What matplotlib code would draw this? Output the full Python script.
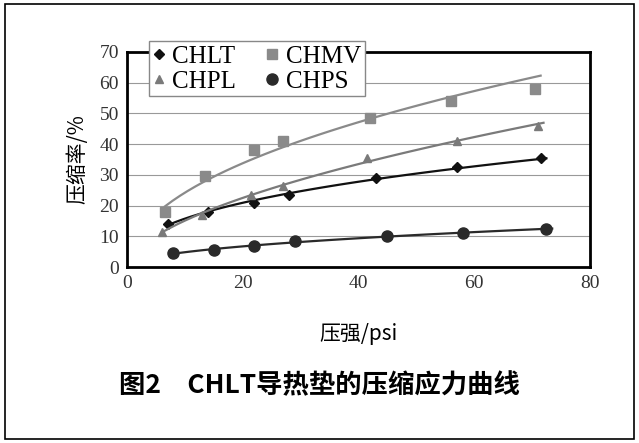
import numpy as np
from matplotlib import pyplot as plt

# Data
chlt_x = [7, 14, 22, 28, 43, 57, 71.5]
chlt_y = [14, 18, 21, 23.5, 29, 32.5, 35.5]
chmv_x = [6.5, 13.5, 22, 27, 42, 56, 70.5]
chmv_y = [18, 29.5, 38, 41, 48.5, 54, 58]
chpl_x = [6, 13, 21.5, 27, 41.5, 57, 71]
chpl_y = [11.5, 17, 23.5, 26.5, 35.5, 41, 46]
chps_x = [8, 15, 22, 29, 45, 58, 72.5]
chps_y = [4.5, 5.5, 7, 8.5, 10, 11, 12.5]

series = [
    ('CHLT', chlt_x, chlt_y, 'D', '#111111', 5),
    ('CHMV', chmv_x, chmv_y, 's', '#8a8a8a', 7),
    ('CHPL', chpl_x, chpl_y, '^', '#7a7a7a', 6),
    ('CHPS', chps_x, chps_y, 'o', '#2a2a2a', 8),
]

serif = 'Liberation Serif'
cjk = ['Noto Sans CJK SC', 'Noto Sans CJK JP', 'DejaVu Sans']

fig = plt.figure(figsize=(6.39, 4.43), dpi=100)
ax = fig.add_axes([0.199, 0.397, 0.724, 0.486])

handles = {}
for name, xs, ys, mk, col, ms in series:
    handles[name], = ax.plot(xs, ys, mk, color=col, markersize=ms, label=name, linestyle='none')
    # power trend line like the spreadsheet original
    b, a = np.polyfit(np.log(xs), np.log(ys), 1)
    tx = np.linspace(min(xs), max(xs) + 1, 50)
    ax.plot(tx, np.exp(a) * tx ** b, color=col, linewidth=1.6)

ax.set_xlim(0, 80)
ax.set_ylim(0, 70)
ax.set_xticks(range(0, 81, 20))
ax.set_yticks(range(0, 71, 10))
ax.yaxis.grid(True, color='#999999', linewidth=0.8)
ax.set_axisbelow(True)
for s in ax.spines.values():
    s.set_linewidth(2)
ax.tick_params(labelsize=14, direction='in', length=0, pad=6)
for lab in ax.get_xticklabels() + ax.get_yticklabels():
    lab.set_fontfamily(serif)
    lab.set_color('#333333')

ax.set_ylabel('压缩率/%', fontfamily=cjk, fontsize=15, labelpad=8)
ax.set_xlabel('压强/psi', fontfamily=cjk, fontsize=15, labelpad=22)

order = ['CHLT', 'CHPL', 'CHMV', 'CHPS']
leg = fig.legend([handles[n] for n in order], order, ncol=2, loc='upper left',
                 bbox_to_anchor=(0.213, 0.935),
                 prop={'family': serif, 'size': 18}, frameon=True, fancybox=False,
                 edgecolor='#888888', framealpha=1, handlelength=0.5, handletextpad=0.3,
                 columnspacing=1.2, borderpad=0.15, labelspacing=0.1)
leg.get_frame().set_linewidth(1)

fig.text(0.5, 0.13, '图2　CHLT导热垫的压缩应力曲线', ha='center', va='center',
         fontfamily=cjk, fontsize=19, fontweight='bold')

fig.patches.append(plt.Rectangle((0.008, 0.01), 0.984, 0.98, transform=fig.transFigure,
                                 fill=False, edgecolor='black', linewidth=1.2))

fig.savefig('out.png', dpi=100)
